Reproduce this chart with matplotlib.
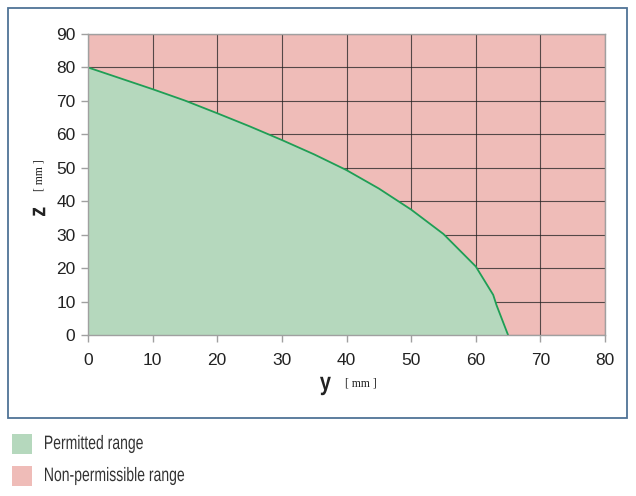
import matplotlib
matplotlib.use("Agg")
import matplotlib.pyplot as plt
from matplotlib.patches import Rectangle, PathPatch
from matplotlib.textpath import TextPath
from matplotlib.font_manager import FontProperties
from matplotlib.transforms import Affine2D

plt.rcParams["font.family"] = ["Liberation Sans", "DejaVu Sans"]

# Grenzkurve (y, z) in mm
y_mm = [0, 10, 15, 20, 25, 30, 35, 40, 45, 50, 55, 60, 62.7, 63.2, 65]
z_mm = [80, 73.5, 70.1, 66.3, 62.4, 58.3, 54.0, 49.3, 43.8, 37.5, 30.2, 20.5, 12, 9, 0]

x_ticks = [0, 10, 20, 30, 40, 50, 60, 70, 80]
z_ticks = [0, 10, 20, 30, 40, 50, 60, 70, 80, 90]

legend_labels = ["Permitted range", "Non-permissible range"]

green = "#b5d8bd"
red = "#efbcb8"
line_col = "#1f9e55"

W, H = 636, 496
fig = plt.figure(figsize=(W / 100, H / 100), dpi=100)


def schmal(x, y, s, size, weight="normal", rot=0, sx=0.78, col="#333333"):
    # schmale Schrift per Skalierung (Pixelkoordinaten, y von oben)
    fp = FontProperties(family="Liberation Sans", weight=weight)
    tp = TextPath((0, 0), s, size=size * 100 / 72, prop=fp)
    bb = tp.get_extents()
    tr = (Affine2D().translate(-bb.x0, -(bb.y0 + bb.y1) / 2).scale(sx, 1)
          .rotate_deg(rot).translate(x, H - y))
    fig.patches.append(PathPatch(tr.transform_path(tp), facecolor=col,
                                 edgecolor="none", transform=None))


# Rahmen um das Diagramm
fig.patches.append(Rectangle((8 / W, 1 - 418 / H), 619 / W, 410 / H,
                             transform=fig.transFigure, fill=False,
                             edgecolor="#4f7396", linewidth=1.3))

ax = fig.add_axes([88 / W, 1 - 335 / H, 517 / W, 301 / H])
ax.set_facecolor(red)
ax.fill_between(y_mm, z_mm, 0, color=green, zorder=3, linewidth=0)
ax.plot(y_mm, z_mm, color=line_col, linewidth=1.3, zorder=4)

ax.set_xlim(0, 80)
ax.set_ylim(0, 90)
ax.set_xticks(x_ticks)
ax.set_yticks(z_ticks)
ax.grid(True, color="#222222", linewidth=0.8, alpha=0.75)
ax.set_axisbelow(True)

for s in ax.spines.values():
    s.set_color("#a0a0a0")
    s.set_linewidth(1.0)
    s.set_zorder(5)
ax.tick_params(direction="out", length=5, width=1, color="#a0a0a0",
               labelsize=12.5, labelcolor="#222222", pad=4)
ax.tick_params(axis="x", pad=8)

# Achsenbeschriftungen
schmal(320, 386, "y", 18, weight="bold", sx=0.8, col="#222222")
fig.text(361 / W, 1 - 384 / H, "[ mm ]", fontsize=8.5,
         family="Liberation Serif", color="#222222", ha="center", va="center")
schmal(39, 216, "z", 17, weight="bold", rot=90, sx=0.85, col="#222222")
fig.text(39 / W, 1 - 175 / H, "[ mm ]", fontsize=8.5,
         family="Liberation Serif", color="#222222", ha="center", va="center",
         rotation=90)

# Legende
for i, (lab, col) in enumerate(zip(legend_labels, [green, red])):
    yc = 444 + i * 32
    fig.patches.append(Rectangle((12 / W, 1 - (yc + 10) / H), 20 / W, 20 / H,
                                 transform=fig.transFigure, facecolor=col,
                                 edgecolor="none"))
    schmal(45, yc, lab, 14, sx=0.72)

fig.savefig("out.png", dpi=100)
